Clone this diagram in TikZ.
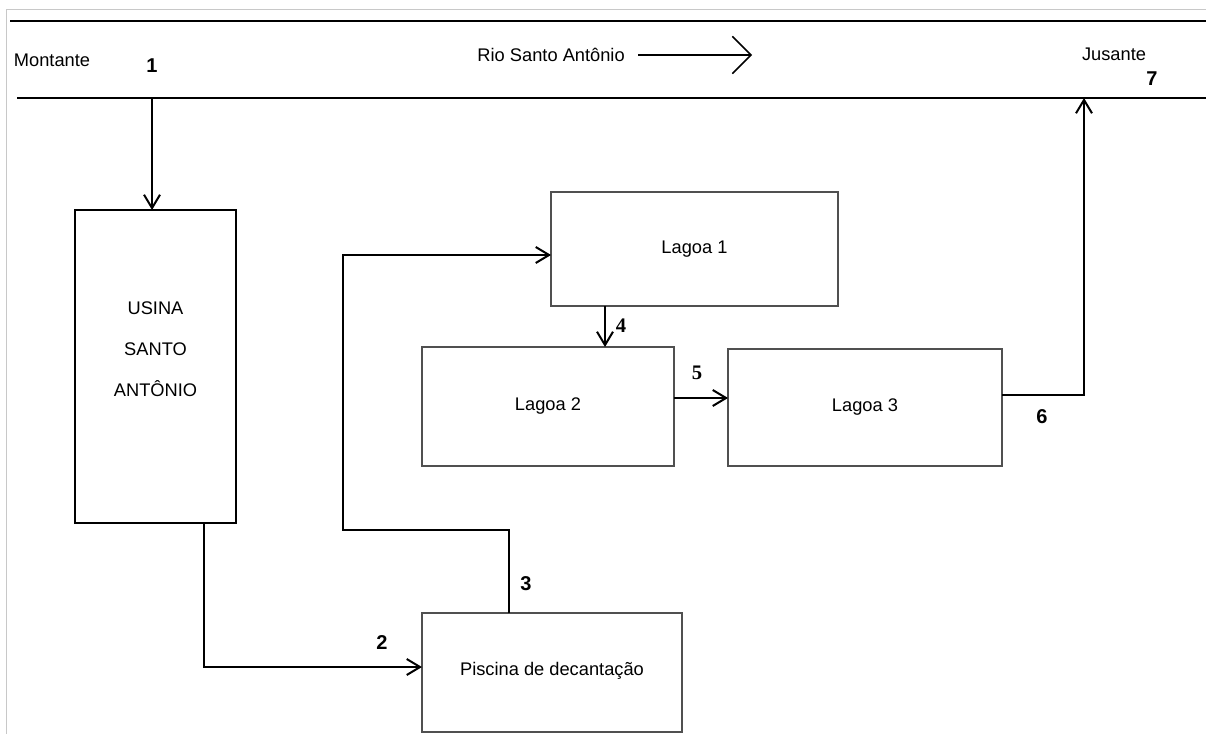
\documentclass[tikz,border=0pt]{standalone}
\usepackage{fontspec}
\setmainfont{Liberation Sans}
\newfontfamily\serifnum{Liberation Serif}
\usetikzlibrary{arrows.meta}
\definecolor{boxgray}{RGB}{80,80,80}
\definecolor{framegray}{RGB}{200,200,200}
\begin{document}
\begin{tikzpicture}[x=0.75pt,y=-0.75pt,
  txt/.style={font=\fontsize{13.7}{16}\selectfont,inner sep=0pt},
  num/.style={font=\fontsize{15}{16}\selectfont\bfseries,inner sep=0pt},
  numserif/.style={font=\fontsize{15.5}{16}\selectfont\serifnum\bfseries,inner sep=0pt},
  lagoa/.style={draw=boxgray,line width=0.9pt,inner sep=0pt,outer sep=0pt,
    font=\fontsize{13.7}{16}\selectfont},
  flow/.style={draw,line width=1.5pt,-{Straight Barb[length=10pt,width=12pt]}},
  riverline/.style={draw,line width=1.5pt}]
\useasboundingbox (0,0) rectangle (1206,734);
\path[draw,framegray,line width=0.75pt] (6,734) |- (1206,10);

\coordinate (m0) at (10,21);
\coordinate (m1) at (1206,21);
\coordinate (j0) at (17,98);
\coordinate (j1) at (1206,98);
\path[riverline] (m0) -- (m1);
\path[riverline] (j0) -- (j1);

\node[txt] (mont) at (52,60) {Montante};
\node[txt] (jus) at (1114,54) {Jusante};
\node[txt,anchor=east] (rio) at (625,55) {Rio Santo Antônio};
\coordinate (rioend) at (752,55);
\path[draw,line width=1.1pt,-{Straight Barb[length=14pt,width=28pt]}] ([xshift=10pt]rio.east) -- (rioend);

\node[draw,line width=1.5pt,inner sep=0pt,outer sep=0pt,minimum width=120.75pt,minimum height=234.75pt,
  align=center,font=\fontsize{13.7}{30.8}\selectfont,text depth=26pt] (usina) at (155.5,366.5) {USINA\\SANTO\\ANTÔNIO};
\node[lagoa,minimum width=215.25pt,minimum height=85.5pt] (lag1) at (694.5,249) {Lagoa 1};
\node[lagoa,minimum width=189pt,minimum height=89.25pt] (lag2) at (548,406.5) {Lagoa 2};
\node[lagoa,minimum width=205.5pt,minimum height=87.75pt] (lag3) at (865,407.5) {Lagoa 3};
\node[lagoa,minimum width=195pt,minimum height=89.25pt,text depth=6pt] (pisc) at (552,672.5) {Piscina de decantação};

\coordinate (p1) at (152,98);
\coordinate (p7) at (1084,98);
\coordinate (b3) at (343,530);
\path[flow] (p1) -- (p1 |- usina.north);
\path[flow] (204,0 |- usina.south) |- (pisc.west |- 0,667);
\path[flow] (509,0 |- pisc.north) |- (b3) |- (lag1.west |- 0,255);
\path[flow] (605,0 |- lag1.south) -- (605,0 |- lag2.north);
\path[flow] (lag2.east |- 0,398) -- (lag3.west |- 0,398);
\path[flow] (lag3.east |- 0,395) -| (p7);

\node[num] (n1) at (152,66) {1};
\node[num] (n2) at (382,643) {2};
\node[num] (n3) at (526,584) {3};
\node[numserif] (n4) at (621,326) {4};
\node[numserif] (n5) at (697,373) {5};
\node[num] (n6) at (1042,417) {6};
\node[num] (n7) at (1152,79) {7};
\end{tikzpicture}
\end{document}
